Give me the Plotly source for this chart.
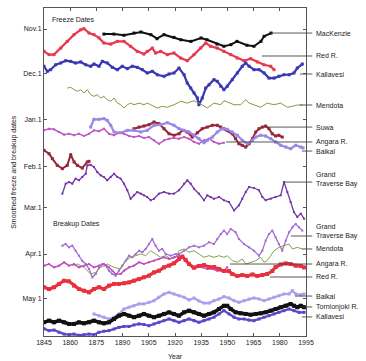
import plotly.graph_objects as go

# ---- axis definitions (days counted from 1 November) ----
tick_days = [0, 30, 61, 92, 120, 151, 181]
tick_text = ["Nov.1", "Dec.1", "Jan.1", "Feb.1", "Mar.1", "Apr.1", "May 1"]
year_ticks = [1845, 1860, 1875, 1890, 1905, 1920, 1935, 1950, 1965, 1980, 1995]
X_RANGE = [1845, 1995]
Y_RANGE = [206, -14.1]

# ---- freeze series ----
mack_yr = [1879.3, 1885, 1890.8, 1896.5, 1900.5, 1906.2, 1909.7, 1913.7, 1919.4, 1923.4, 1929.1, 1934.9, 1938.3, 1944, 1948, 1952, 1955.5, 1961.2, 1965.2, 1969.2, 1971, 1975]
mack_d = [3.4, 3.4, 4.2, 2.7, 2.0, 3.8, 6.5, 3.8, 5.6, 7.2, 8.3, 6.0, 7.2, 10.1, 11.6, 10.5, 8.3, 10.9, 11.6, 8.3, 4.9, 2.7]

redf_yr = [1845, 1847.9, 1850.7, 1854.6, 1858.3, 1862.2, 1866, 1867.9, 1870.8, 1873.6, 1876.5, 1879.3, 1883.2, 1887, 1890.8, 1894.6, 1898.4, 1902.2, 1904.1, 1907, 1908.9, 1911.8, 1915.6, 1919.4,
           1923.3, 1927, 1930.9, 1934.7, 1937.6, 1940.4, 1944.2, 1948, 1951.9, 1955.6, 1959.5, 1963.3, 1967.1, 1970.9, 1974.8, 1976.7]
redf_d = [15, 17.2, 17.2, 12.8, 8.3, 3.8, 0.5, -0.2, 2.7, 3.8, 6, 9.4, 10.1, 8.3, 8.3, 11.6, 15, 16.8, 15, 12.8, 16.1, 15, 17.2, 16.1,
          19.5, 21.3, 17.2, 12.8, 9.4, 11.6, 12.8, 15, 17.2, 19.5, 21.3, 19.9, 22.1, 24, 25, 27.3]

kalf_yr = [1845, 1846.9, 1848.8, 1851.7, 1854.6, 1857.4, 1860.3, 1863.1, 1866, 1868.9, 1871.7, 1873.6, 1876.5, 1878.4, 1881.2, 1884.1, 1887, 1889.8, 1892.7, 1895.6, 1898.4, 1901.3, 1904.1, 1907, 1909.9, 1913.7, 1916.6, 1919.4,
           1922.3, 1925.2, 1927, 1929, 1930.9, 1932.8, 1933.7, 1935.6, 1937.6, 1939.5, 1942.3, 1944.2, 1946.2, 1948, 1949.9, 1952.8, 1955.7, 1958.5, 1960.5, 1962.4, 1965.2, 1968.1, 1971, 1973.8, 1976.7, 1979.5, 1982.4, 1985.3, 1988.1, 1990, 1992.9]
kalf_d = [25, 28.4, 27.3, 24, 22.8, 21.3, 21.7, 22.8, 22.1, 24, 25, 23.5, 25, 21.7, 22.8, 25.7, 27.3, 25, 26.6, 25, 25.7, 27.3, 29.5, 28.4, 30.7, 31.7, 30.2, 29.5,
          26.2, 30.7, 36.2, 39.6, 42.9, 46.3, 50.8, 46.3, 39.6, 37.4, 34, 35.1, 38.4, 40.7, 38.4, 34, 29.5, 25, 22.8, 25, 27.3, 27.3, 29.5, 32.9, 32.9, 31.7, 30.7, 30.7, 29.5, 26.2, 23.5]

menf_yr = [1858.3, 1860.3, 1862.2, 1864.1, 1866, 1867.9, 1869.8, 1871.7, 1873.6, 1875.5, 1877.5, 1879.3, 1881.2, 1883.2, 1885.1, 1887, 1888.9, 1890.8, 1892.7, 1894.6, 1896.5, 1899.4, 1902.2, 1904.1, 1906.1, 1909.9, 1912.7, 1915.6, 1919.4,
           1923.3, 1927, 1930.9, 1933.7, 1936.6, 1938.5, 1942.3, 1946.2, 1948, 1950.9, 1953.8, 1957.6, 1960.5, 1962.4, 1965.2, 1969.1, 1972.8, 1976.7, 1980.5, 1984.3, 1987.2, 1990, 1992.9]
menf_d = [39.6, 39.1, 40.7, 41.8, 40.7, 42.9, 40.7, 44.1, 45.2, 44.1, 46.3, 45.2, 47.4, 48.5, 46.3, 49.7, 50.8, 53, 50.8, 49.7, 50.8, 49.7, 50.8, 49.7, 50.8, 53, 51.9, 52.5, 50.8,
          48.5, 49.7, 48.1, 49.7, 51.9, 53, 49.7, 50.8, 48.1, 49.7, 50.8, 50.8, 47.4, 49.7, 50.8, 52.5, 49.7, 50.8, 49.7, 52.5, 51.9, 51, 51]

suwa_yr = [1845, 1847.9, 1849.8, 1852.6, 1855.5, 1858.3, 1860.3, 1862.2, 1864.1, 1866.9, 1869.8, 1870.8, None,
           1896.5, 1899.4, 1902.2, 1905.1, 1908, 1910.8, 1913.7, 1916.6, 1919.4, 1922.3, 1924.2, 1927, 1929.9, 1932.8, 1935.6, 1938.5, 1941.4, 1944.2, 1946.2, 1948,
           1949.9, 1952.8, 1954.7, 1956.6, 1958.5, 1960.5, 1962.4, 1964.3, 1966.2, 1968.1, 1970, 1971.9, 1973.8, 1975.7, 1977.6, 1979.5, 1981.4]
suwa_d = [81.4, 83.7, 87, 91.5, 93.7, 91.5, 84.3, 89.2, 91.5, 93.3, 89.2, 88.8, None,
          66.9, 65.8, 65.1, 64.2, 62.4, 63.5, 66.9, 70.3, 71.3, 70.3, 68, 69.1, 72.5, 69.6, 66.9, 65.8, 64.6, 64.6, 65.8, 66.9,
          68, 70.3, 73.6, 77, 78, 79.2, 77, 73.6, 69.1, 66.9, 65.8, 65.1, 66.9, 70.3, 71.8, 71.3, 72.5]

angf_yr = [1845, 1847.9, 1850.7, 1853.6, 1856.5, 1859.3, 1862.2, 1865, 1867.9, 1870.8, 1873.6, 1876.5, 1879.3, 1882.2, 1885.1, 1887.9, 1890.8, 1893.7, 1896.5, 1899.4, 1902.2, 1905.1, 1908, 1910.8, 1913.7, 1916.6, 1919.4,
           1922.3, 1925.2, 1928, 1930.9, 1933.7, 1936.6, 1939.5, 1942.3, 1945.2, 1948]
angf_d = [68, 66.9, 67.3, 69.1, 70.9, 70.3, 71.3, 70.3, 71.8, 70.3, 68, 68.6, 66.9, 70.3, 71.3, 69.6, 70.3, 71.8, 72.5, 71.8, 73.1, 72.5, 74.7, 77, 74.7, 73.6, 73.1,
          73.6, 72.5, 73.6, 75.8, 77, 74.7, 73.6, 75.8, 77, 76.3]

baif_yr = [1871.7, 1873.6, 1876.5, 1879.3, 1881.2, 1883.2, 1885.1, 1888.9, 1892.7, 1896.5, 1900.4, 1904.1, 1908, 1911.8, 1915.6, 1919.4,
           1922.3, 1925.2, 1928, 1930.9, 1933.7, 1936.6, 1938.5, 1941.4, 1944.2, 1947.1, 1949.9, 1952.8, 1955.7, 1958.5, 1961.4, 1964.3, 1966.2, 1969.1, 1971.9, 1974.8, 1977.6, 1980.5, 1983.4, 1986.2, 1989.1, 1992, 1993.3]
baif_d = [65.8, 60.6, 60.6, 60.2, 61.3, 64.6, 69.1, 69.6, 68, 68, 69.1, 68, 64.6, 64.2, 62.9, 64.6,
          66.9, 68, 69.1, 71.3, 73.6, 76.3, 74.7, 72.5, 69.1, 66.9, 67.3, 69.1, 71.3, 74.7, 77, 74.7, 72.5, 71.3, 71.8, 73.6, 75.8, 78, 79.2, 80.3, 78, 79.2, 79.8]

gtbf_yr = [1855.5, 1857.4, 1859.3, 1861.2, 1863.1, 1865, 1866.9, 1868.9, 1869.8, 1871.7, 1873.6, 1875.5, 1877.5, 1879.3, 1881.2, 1883.2, 1885.1, 1887, 1888.9, 1890.8, 1892.7, 1894.6, 1896.5, 1898.4, 1900.4, 1902.2, 1904.1, 1906.1, 1908, 1910.8, 1913.7, 1916.6, 1919.4,
           1922.3, 1925.2, 1927, 1929, 1930.9, 1933.7, 1936.6, 1938.5, 1940.4, 1942.3, 1945.2, 1948, 1950.9, 1953.8, 1956.6, 1958.5, 1960.5, 1962.4, 1965.2, 1968.1, 1970, 1971.9, 1974.8, 1977.6, 1980.5, 1982.4, 1984.3, 1986.2, 1988.1, 1990, 1992, 1993.9]
gtbf_d = [110.5, 103.8, 102.7, 103.8, 100.4, 101.5, 99.3, 97.1, 91.5, 91.1, 92.6, 96, 98.2, 99.3, 101.5, 99.3, 97.1, 99.3, 100.4, 103.8, 108.2, 113.9, 111.6, 109.4, 110.5, 111.6, 112.7, 114.9, 113.9, 110.5, 109.4, 110.5, 110.5,
          108.2, 103.8, 101.5, 103.8, 107.2, 110.5, 114.9, 111.6, 112.7, 113.9, 112.7, 114.9, 116.1, 121.7, 118.3, 113.9, 109.4, 106, 106.7, 108.2, 112.7, 114.9, 113.9, 112.7, 111.6, 102.7, 109.4, 116.1, 122.8, 126.1, 123.9, 127.3]

# ---- breakup series ----
gtbb_yr = [1855.5, 1857.4, 1859.3, 1861.2, 1863.1, 1865, 1866.9, 1868.9, 1870.8, 1872.7, 1874.6, 1876.5, 1878.4, 1880.3, 1882.2, 1884.1, 1886, 1887.9, 1889.8, 1891.8, 1893.7, 1895.6, 1897.5, 1899.4, 1901.3, 1903.2, 1905.1, 1907, 1908.9, 1910.8, 1912.7, 1914.7, 1917.5, 1920.4,
           1922.3, 1925.2, 1928, 1930.9, 1933.7, 1936.6, 1939.5, 1942.3, 1944.2, 1946.2, 1948, 1949.9, 1951.9, 1954.7, 1956.6, 1959.5, 1962.4, 1965.2, 1968.1, 1970, 1971.9, 1973.8, 1975.7, 1977.6, 1979.5, 1981.4, 1983.4, 1985.3, 1987.2, 1989.1, 1991, 1992.9]
gtbb_d = [145.4, 144.3, 146.5, 145.4, 148.8, 152.1, 155.5, 157.7, 161, 166.6, 164.4, 159.9, 157.7, 158.8, 162.2, 164.4, 165.5, 162.2, 158.8, 155.5, 152.1, 153.2, 151, 148.8, 149.8, 147.6, 144.3, 140.9, 145.4, 148.8, 147.6, 151, 152.1, 151,
          151, 148.8, 146.5, 145.4, 146.5, 145.4, 143.1, 144.3, 140.9, 137.6, 135.3, 137.6, 134.2, 136.4, 140.9, 144.3, 146.5, 148.8, 152.1, 148.8, 142, 137.6, 135.3, 139.8, 144.3, 148.8, 142, 136.4, 133.1, 130.8, 133.1, 135.3]

menb_yr = [1861.2, 1864.1, 1867.9, 1871.7, 1874.6, 1877.5, 1881.2, 1885.1, 1888.9, 1891.8, 1894.6, 1897.5, 1900.4, 1903.2, 1906.1, 1908.9, 1911.8, 1914.7, 1917.5, 1920.4,
           1922.3, 1925.2, 1928, 1930.9, 1933.7, 1936.6, 1939.5, 1942.3, 1945.2, 1948, 1949.9, 1952.8, 1955.7, 1958.5, 1960.5, 1963.3, 1966.2, 1969.1, 1971, 1972.8, 1974.8, 1976.7, 1979.5, 1982.4, 1985.3, 1987.2, 1990, 1992.9]
menb_d = [158.8, 157.7, 159.9, 164.4, 163.3, 159.9, 157.7, 159.9, 161, 155.5, 153.2, 152.1, 151, 152.1, 148.8, 151, 153.2, 152.1, 154.3, 153.2,
          148.8, 147.6, 149.8, 148.8, 151, 153.2, 152.1, 153.2, 152.1, 153.2, 152.1, 155.5, 156.5, 154.3, 157.7, 156.5, 155.5, 153.2, 156.5, 155.5, 152.1, 148.8, 146.5, 145.4, 144.3, 147.6, 146.5, 147.6]

angb_yr = [1845, 1847.9, 1850.7, 1853.6, 1856.5, 1859.3, 1862.2, 1865, 1867.9, 1870.8, 1873.6, 1876.5, 1879.3, 1882.2, 1884.1, 1886, 1888.9, 1890.8, 1893.7, 1896.5, 1899.4, 1902.2, 1905.1, 1908, 1910.8, 1913.7, 1916.6, 1919.4,
           1922.3, 1924.2, 1926.1, 1928, 1929.9, 1932.8, 1935.6, 1938.5, 1941.4, 1944.2, 1948, 1949.9]
angb_d = [158.8, 157.7, 159.9, 158.8, 156.5, 158.8, 157.7, 159.9, 158.8, 157.7, 159.9, 158.8, 157.7, 159.9, 162.2, 164.4, 164.4, 162.2, 159.9, 158.8, 156.5, 157.7, 156.5, 155.5, 154.3, 153.2, 154.3, 153.2,
          152.1, 153.2, 155.5, 157.7, 159.9, 158.8, 159.9, 161, 161, 162.2, 162.2, 159.9]

redb_yr = [1845, 1847.9, 1850.7, 1853.6, 1856.5, 1859.3, 1862.2, 1865, 1867.9, 1870.8, 1873.6, 1876.5, 1879.3, 1882.2, 1885.1, 1887.9, 1890.8, 1893.7, 1896.5, 1899.4, 1902.2, 1905.1, 1908, 1910.8, 1913.7, 1916.6, 1919.4,
           1922.3, 1924.2, 1926.1, 1928, 1930.9, 1933.7, 1936.6, 1939.5, 1942.3, 1945.2, 1948, 1950.9, 1952.8, 1955.7, 1958.5, 1961.4, 1964.3, 1967.1, 1970, 1972.8, 1975.7, 1977.6, 1980.5, 1983.4, 1986.2, 1989.1, 1992, 1993.9]
redb_d = [173.3, 174.5, 173.3, 171.1, 168.9, 169.3, 172.2, 174.5, 175.6, 176.7, 174.5, 173.3, 174.5, 172.2, 171.1, 171.1, 170.6, 170, 168.9, 167.8, 166.6, 165.5, 163.3, 162.2, 159.9, 158.8, 157.2,
          154.3, 152.7, 155, 157.7, 160.2, 159, 158.4, 159.7, 159.7, 161, 162.4, 162.4, 164.4, 165.7, 165.1, 165.7, 164.7, 165.7, 165.1, 164.4, 162.4, 159.7, 158, 157.3, 157.7, 158.8, 159, 160]

baib_yr = [1873.6, 1876.5, 1879.3, 1882.2, 1885.1, 1887.9, 1890.8, 1893.7, 1896.5, 1899.4, 1902.2, 1905.1, 1908, 1910.8, 1913.7, 1916.6, 1919.4,
           1922.3, 1925.2, 1928, 1930.9, 1933.7, 1936.6, 1939.5, 1942.3, 1945.2, 1948, 1950.9, 1953.8, 1956.6, 1959.5, 1962.4, 1965.2, 1968.1, 1971, 1973.8, 1976.7, 1979.5, 1982.4, 1985.3, 1987.2, 1989.1, 1992, 1993.9]
baib_d = [191.2, 192.4, 193.4, 194.6, 193.4, 191.2, 187.9, 186.7, 185.7, 184.5, 184.5, 183.4, 182.3, 180, 177.8, 176.7, 177.8,
          179, 180, 181.8, 180.5, 182.5, 183.9, 183.9, 182.3, 181.2, 179.6, 180.5, 182.3, 183.4, 182.3, 181.2, 180.5, 181.2, 182.3, 181.2, 180, 179, 177.8, 177.8, 175.6, 177.8, 178.3, 177.8]

torn_yr = [1845, 1847.9, 1850.7, 1853.6, 1856.5, 1859.3, 1862.2, 1865, 1867.9, 1870.8, 1873.6, 1876.5, 1879.3, 1882.2, 1885.1, 1887.9, 1890.8, 1893.7, 1896.5, 1899.4, 1902.2, 1905.1, 1908, 1910.8, 1913.7, 1916.6, 1919.4,
           1922.3, 1925.2, 1928, 1930.9, 1933.7, 1936.6, 1939.5, 1942.3, 1945.2, 1948, 1949.9, 1951.9, 1954.7, 1957.6, 1960.5, 1963.3, 1966.2, 1969.1, 1971.9, 1974.8, 1977.6, 1980.5, 1983.4, 1986.2, 1988.1, 1990, 1992, 1993.9]
torn_d = [196.8, 195.7, 196.8, 195.7, 196.8, 197.9, 197.9, 196.8, 197.5, 196.8, 195.7, 196.8, 197.5, 196.8, 194.6, 192.4, 191.2, 192.4, 193.4, 192.4, 191.2, 192.4, 193.4, 192.4, 191.2, 190.1, 191.2,
          192.4, 190.1, 189, 190.1, 191.2, 192.4, 191.2, 190.1, 187.9, 185.7, 185.7, 187.9, 190.1, 190.8, 191.2, 191.7, 191.2, 190.8, 190.1, 189, 187.9, 186.7, 185.7, 184.5, 185.7, 186.7, 185.7, 186.7]

kalb_yr = [1845, 1847.9, 1850.7, 1853.6, 1856.5, 1859.3, 1862.2, 1865, 1867.9, 1870.8, 1873.6, 1876.5, 1879.3, 1882.2, 1885.1, 1887.9, 1890.8, 1893.7, 1896.5, 1899.4, 1902.2, 1905.1, 1908, 1910.8, 1913.7, 1916.6, 1919.4,
           1922.3, 1925.2, 1928, 1930.9, 1933.7, 1936.6, 1939.5, 1942.3, 1945.2, 1948, 1950.9, 1953.8, 1956.6, 1959.5, 1962.4, 1965.2, 1968.1, 1971, 1973.8, 1976.7, 1979.5, 1982.4, 1985.3, 1988.1, 1991, 1993.9]
kalb_d = [201.1, 202.4, 202, 203.5, 204.7, 205.1, 204.7, 205.5, 205.1, 204.7, 205.1, 203.5, 202.8, 202.4, 201.3, 200.2, 199.6, 199.6, 198.6, 197.9, 198.3, 199.1, 197.9, 196.8, 195.7, 194.6, 195.7,
          196.8, 195.7, 194.6, 195.7, 196.8, 195.7, 194.6, 193.4, 191.2, 189, 191.2, 193.4, 194.6, 194.6, 195.3, 195.7, 194.6, 193.4, 192.4, 191.2, 190.1, 189, 187.9, 189, 190.1, 190.1]

# ---- right-hand labels: text, label day, leader start year, leader day ----
label_text = ["MacKenzie", "Red R.", "Kallavesi", "Mendota", "Suwa", "Angara R.", "Baikal", "Grand<br>Traverse Bay",
              "Grand<br>Traverse Bay", "Mendota", "Angara R.", "Red R.", "Baikal", "Tornionjoki R.", "Kallavesi"]
label_day = [2.7, 18.1, 30.2, 51, 65.8, 75.8, 81.9, 100.7, 136.2, 147.6, 157.7, 166.4, 179.2, 186.5, 193.2]
leader_year = [1975, 1969.8, 1991.6, 1991.6, 1971.5, 1949.2, 1992.7, 1982.4, 1986.4, 1992.7, 1951.5, 1974.4, 1988.7, 1992.7, 1992.7]
leader_day = [2.7, 18.1, 30.2, 51, 65.8, 75.8, 81.9, 102.7, 138.9, 147.6, 157.7, 166.4, 179.2, 186.5, 193.2]

# (x, y, colour, line width, marker size)
series = [
    (mack_yr, mack_d, "#111111", 2.0, 3),
    (redf_yr, redf_d, "#e8384e", 2.2, 3),
    (kalf_yr, kalf_d, "#3a38b0", 2.2, 3),
    (menf_yr, menf_d, "#7e9c42", 1.0, 0),
    (angf_yr, angf_d, "#c254c0", 1.5, 2),
    (suwa_yr, suwa_d, "#962638", 2.0, 3),
    (baif_yr, baif_d, "#9a86e6", 2.2, 3),
    (gtbf_yr, gtbf_d, "#7434a8", 1.3, 2),
    (gtbb_yr, gtbb_d, "#a46ad6", 1.3, 2),
    (menb_yr, menb_d, "#80a448", 1.0, 0),
    (angb_yr, angb_d, "#c050c0", 1.6, 2),
    (redb_yr, redb_d, "#e8303e", 3.2, 4),
    (baib_yr, baib_d, "#b09cee", 2.2, 3),
    (kalb_yr, kalb_d, "#5a46c8", 2.2, 3),
    (torn_yr, torn_d, "#111111", 3.6, 4),
]

fig = go.Figure()
for xs, ys, col, w, ms in series:
    fig.add_trace(go.Scatter(x=xs, y=ys, mode="lines+markers" if ms else "lines",
                             line=dict(color=col, width=w),
                             marker=dict(symbol="square", size=ms, color=col, line=dict(width=0)),
                             showlegend=False, hoverinfo="skip", connectgaps=False))

def xpaper(year):
    return (year - X_RANGE[0]) / (X_RANGE[1] - X_RANGE[0])

def ypaper(day):
    return (Y_RANGE[0] - day) / (Y_RANGE[0] - Y_RANGE[1])

shapes = []
for yr, d in zip(leader_year, leader_day):
    shapes.append(dict(type="line", xref="paper", yref="paper", x0=xpaper(yr), x1=1.024,
                       y0=ypaper(d), y1=ypaper(d), line=dict(color="#444444", width=0.9), layer="above"))

font = dict(family="Liberation Sans, Arial, sans-serif", size=7, color="#222222")
annotations = []
for t, d in zip(label_text, label_day):
    annotations.append(dict(text=t, xref="paper", yref="paper", x=1.03, y=ypaper(d), xanchor="left",
                            yanchor="middle", align="left", showarrow=False, font=font))
annotations.append(dict(text="Freeze Dates", xref="paper", yref="paper", x=0.023, y=ypaper(-6.7),
                        xanchor="left", yanchor="middle", showarrow=False, font=font))
annotations.append(dict(text="Breakup Dates", xref="paper", yref="paper", x=0.027, y=ypaper(130.8),
                        xanchor="left", yanchor="middle", showarrow=False, font=font))
annotations.append(dict(text="Smoothed freeze and breakup dates", xref="paper", yref="paper",
                        x=-0.115, y=0.5, xanchor="center", yanchor="middle", textangle=-90,
                        showarrow=False, font=font))
annotations.append(dict(text="Year", xref="paper", yref="paper", x=0.5, y=-0.047,
                        xanchor="center", yanchor="top", showarrow=False, font=font))

fig.update_layout(
    width=366, height=361,
    margin=dict(l=44, r=60, t=8, b=25, autoexpand=False),
    paper_bgcolor="white", plot_bgcolor="white",
    font=font,
    shapes=shapes, annotations=annotations,
    xaxis=dict(range=X_RANGE, tickvals=year_ticks, ticks="inside", ticklen=3, tickcolor="#555",
               showline=True, linecolor="#555", linewidth=1, mirror="ticks", showgrid=False, zeroline=False,
               automargin=False, tickfont=font),
    yaxis=dict(range=Y_RANGE, tickvals=tick_days, ticktext=tick_text, ticks="inside", ticklen=3, tickcolor="#555",
               showline=True, linecolor="#555", linewidth=1, mirror="ticks", showgrid=False, zeroline=False,
               automargin=False, tickfont=font),
)

fig.write_html("out.html", config={"displayModeBar": False},
               post_script="document.body.style.margin='0px';document.body.style.overflow='hidden';")
